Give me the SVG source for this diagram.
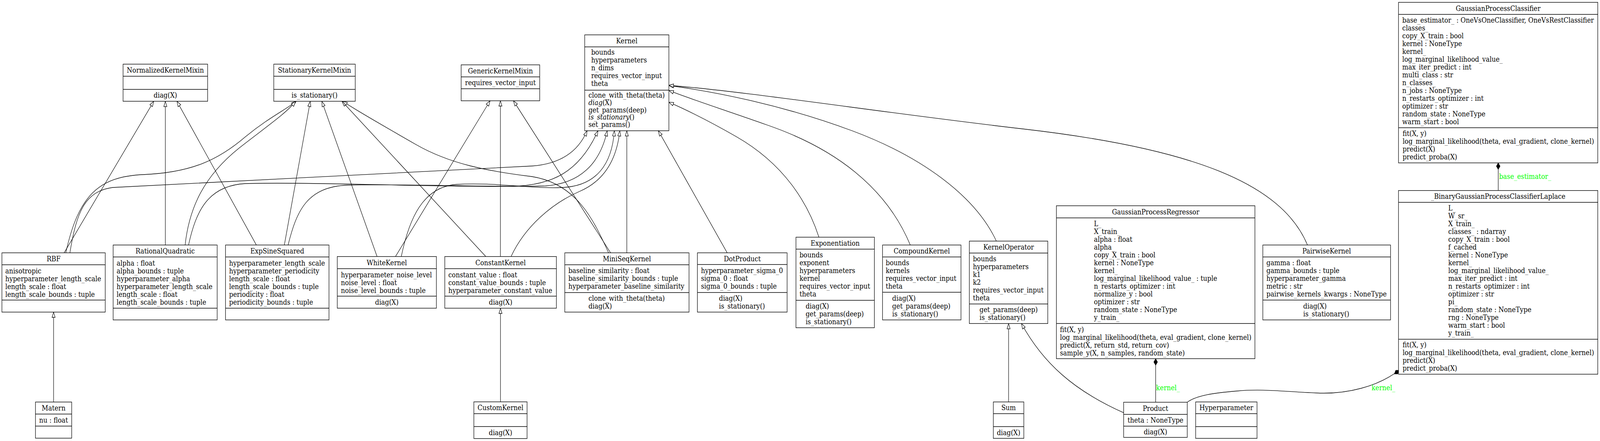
<svg xmlns="http://www.w3.org/2000/svg" width="4693" height="1129" viewBox="0 0 4693 1129" preserveAspectRatio="none">
<style>
svg{width:100vw;height:100vh}
.b{fill:#fff;stroke:#000;stroke-width:1.4}
.s{stroke:#000;stroke-width:1.4}
text{font-family:"DejaVu Serif",serif;font-size:18.67px;fill:#000}
.c{text-anchor:middle}
.e path{fill:none;stroke:#000;stroke-width:1.3}
.i{marker-end:url(#inh)}
.d{marker-start:url(#dia)}
.g{fill:#00ff00}
</style>
<defs>
<marker id="inh" markerUnits="userSpaceOnUse" markerWidth="16" markerHeight="12" refX="14" refY="5" orient="auto" overflow="visible"><path d="M0.5,0.5 L14,5 L0.5,9.5 Z" fill="#fff" stroke="#000" stroke-width="1.3"/></marker>
<marker id="dia" markerUnits="userSpaceOnUse" markerWidth="18" markerHeight="13" refX="0" refY="6" orient="auto" overflow="visible"><path d="M0,6 L8.5,0.5 L17,6 L8.5,11.5 Z" fill="#000" stroke="#000" stroke-width="1"/></marker>
</defs>
<rect width="4693" height="1129" fill="#fff"/>
<g class="e" id="connectors">
<path class="i" d="M188,647.3 L451,259.3"/>
<path class="i" d="M485,627.3 L485,259.3"/>
<path class="i" d="M752,627.3 L519,259.3"/>
<path class="i" d="M193,647.3 C230,500 290,452 420,447 C560,442 640,410 720,350 C790,300 840,280 869,259.3"/>
<path class="i" d="M543,627.3 C555,530 600,450 700,380 C780,325 840,290 867,259.3"/>
<path class="i" d="M834,627.3 L910,259.3"/>
<path class="i" d="M1106,656.7 L944,259.3"/>
<path class="i" d="M1425,656.7 L1003,259.3"/>
<path class="i" d="M1785,647.3 C1740,560 1690,470 1560,452 C1430,438 1320,420 1220,370 C1120,320 1050,285 1005,259.3"/>
<path class="i" d="M1160,656.7 L1437.5,258"/>
<path class="i" d="M1467.8,656.7 L1467.8,258"/>
<path class="i" d="M1791,647.3 L1506,258"/>
<path class="i" d="M205,647.3 C225,540 250,490 330,480 L1560,425 C1640,420 1695,390 1722,334.7"/>
<path class="i" d="M553,627.3 C575,540 610,475 720,470 C900,465 1300,480 1500,477 C1620,475 1700,440 1754,334.7"/>
<path class="i" d="M845,627.3 C870,540 900,478 1020,474 C1200,470 1450,480 1600,476 C1700,470 1760,420 1781,334.7"/>
<path class="i" d="M1177,656.7 C1200,560 1240,478 1340,472 C1450,466 1560,484 1650,480 C1750,476 1795,420 1802,334.7"/>
<path class="i" d="M1499,656.7 C1540,580 1620,520 1700,490 C1780,460 1810,400 1818,334.7"/>
<path class="i" d="M1838.5,647.3 L1838.5,334.7"/>
<path class="i" d="M2133,647.3 L1931,334.7"/>
<path class="i" d="M2402,607.3 C2370,520 2300,420 2160,350 C2080,310 2010,280 1962,261.7"/>
<path class="i" d="M2670,627.3 C2600,480 2450,380 2250,320 C2120,280 2030,255 1962,231.7"/>
<path class="i" d="M2922.5,617.3 C2860,500 2700,400 2500,335 C2300,270 2100,235 1962,219"/>
<path class="i" d="M3835,627.3 C3760,470 3500,380 3000,330 C2600,290 2200,235 1962,218.5"/>
<path class="i" d="M2958.3,1029 L2958.3,828.3"/>
<path class="i" d="M3295.8,1056.7 C3150,1000 3060,930 2996,828.3"/>
<path class="i" d="M157.2,1029.3 L157.2,799"/>
<path class="i" d="M1468,1028.7 L1468,789"/>
<path class="d" d="M4394.5,417 L4394.5,487.7"/>
<path class="d" d="M3389.7,918.3 L3389.7,1029.7"/>
<path class="d" d="M4104,948 C4040,990 3950,1010 3860,1006 C3760,1002 3700,995 3629,1001 C3560,1006 3510,1012 3482.4,1029.7"/>
<text class="g" x="4397" y="458.5">base_estimator_</text>
<text class="g" x="3391" y="999.5">kernel_</text>
<text class="g" x="4023" y="999.5">kernel_</text>
</g>
<g id="NormalizedKernelMixin">
<rect class="b" x="361" y="164.3" width="248" height="95"/>
<path class="s" d="M361,195.3H609M361,228.7H609"/>
<text class="c" x="485" y="186.3">NormalizedKernelMixin</text>
<text class="c" x="485" y="250.5">diag(X)</text>
</g>
<g id="StationaryKernelMixin">
<rect class="b" x="803" y="164.3" width="239" height="95"/>
<path class="s" d="M803,195.3H1042M803,228.7H1042"/>
<text class="c" x="922.5" y="186.3">StationaryKernelMixin</text>
<text class="c" x="922.5" y="250.5">is_stationary()</text>
</g>
<g id="GenericKernelMixin">
<rect class="b" x="1352.6" y="166" width="230.4" height="92"/>
<path class="s" d="M1352.6,196.7H1583M1352.6,227.3H1583"/>
<text class="c" x="1467.8" y="187.8">GenericKernelMixin</text>
<text class="c" x="1467.8" y="218.5">requires_vector_input</text>
</g>
<g id="Kernel">
<rect class="b" x="1715" y="89.3" width="247" height="245.4"/>
<path class="s" d="M1715,120H1962M1715,230.7H1962"/>
<text class="c" x="1838.5" y="111.2">Kernel</text>
<text x="1734" y="140.5">bounds<tspan x="1734" dy="20">hyperparameters</tspan><tspan x="1734" dy="20">n_dims</tspan><tspan x="1734" dy="20">requires_vector_input</tspan><tspan x="1734" dy="20">theta</tspan></text>
<text x="1726" y="250.5">clone_with_theta(theta)</text>
<text x="1726" y="269"><tspan font-style="italic">diag</tspan>(X)</text>
<text x="1726" y="287.8">get_params(deep)</text>
<text x="1726" y="306.5"><tspan font-style="italic">is_stationary</tspan>()</text>
<text x="1726" y="325.2">set_params()</text>
</g>
<g id="RBF">
<rect class="b" x="5.6" y="647.3" width="303.1" height="151.7"/>
<path class="s" d="M5.6,677.7H308.7M5.6,768.3H308.7"/>
<text class="c" x="157.2" y="669">RBF</text>
<text x="15.4" y="699.8">anisotropic<tspan x="15.4" dy="20">hyperparameter_length_scale</tspan><tspan x="15.4" dy="20">length_scale : float</tspan><tspan x="15.4" dy="20">length_scale_bounds : tuple</tspan></text>
</g>
<g id="RationalQuadratic">
<rect class="b" x="331.8" y="627.3" width="305.2" height="191.7"/>
<path class="s" d="M331.8,657.7H637M331.8,789H637"/>
<text class="c" x="484.4" y="649">RationalQuadratic</text>
<text x="342" y="679.8">alpha : float<tspan x="342" dy="20">alpha_bounds : tuple</tspan><tspan x="342" dy="20">hyperparameter_alpha</tspan><tspan x="342" dy="20">hyperparameter_length_scale</tspan><tspan x="342" dy="20">length_scale : float</tspan><tspan x="342" dy="20">length_scale_bounds : tuple</tspan></text>
</g>
<g id="ExpSineSquared">
<rect class="b" x="661.5" y="627.3" width="303.5" height="191.7"/>
<path class="s" d="M661.5,657.7H965M661.5,789H965"/>
<text class="c" x="813.2" y="649">ExpSineSquared</text>
<text x="672" y="679.8">hyperparameter_length_scale<tspan x="672" dy="20">hyperparameter_periodicity</tspan><tspan x="672" dy="20">length_scale : float</tspan><tspan x="672" dy="20">length_scale_bounds : tuple</tspan><tspan x="672" dy="20">periodicity : float</tspan><tspan x="672" dy="20">periodicity_bounds : tuple</tspan></text>
</g>
<g id="WhiteKernel">
<rect class="b" x="989.3" y="656.7" width="290.7" height="132.3"/>
<path class="s" d="M989.3,687.7H1280M989.3,758.3H1280"/>
<text class="c" x="1134.6" y="678.7">WhiteKernel</text>
<text x="1000" y="709.8">hyperparameter_noise_level<tspan x="1000" dy="20">noise_level : float</tspan><tspan x="1000" dy="20">noise_level_bounds : tuple</tspan></text>
<text class="c" x="1134.6" y="780.2">diag(X)</text>
</g>
<g id="ConstantKernel">
<rect class="b" x="1304.6" y="656.7" width="327.4" height="132.3"/>
<path class="s" d="M1304.6,687.7H1632M1304.6,758.3H1632"/>
<text class="c" x="1468.3" y="678.7">ConstantKernel</text>
<text x="1315" y="709.8">constant_value : float<tspan x="1315" dy="20">constant_value_bounds : tuple</tspan><tspan x="1315" dy="20">hyperparameter_constant_value</tspan></text>
<text class="c" x="1468.3" y="780.2">diag(X)</text>
</g>
<g id="MiniSeqKernel">
<rect class="b" x="1656.6" y="647.3" width="364.4" height="151.7"/>
<path class="s" d="M1656.6,677.7H2021M1656.6,749H2021"/>
<text class="c" x="1838.8" y="669">MiniSeqKernel</text>
<text x="1667" y="699.2">baseline_similarity : float<tspan x="1667" dy="20">baseline_similarity_bounds : tuple</tspan><tspan x="1667" dy="20">hyperparameter_baseline_similarity</tspan></text>
<text x="1726" y="770.5">clone_with_theta(theta)<tspan x="1726" dy="20">diag(X)</tspan></text>
</g>
<g id="DotProduct">
<rect class="b" x="2045.6" y="647.3" width="263.1" height="151.7"/>
<path class="s" d="M2045.6,677.3H2308.7M2045.6,748.7H2308.7"/>
<text class="c" x="2177.2" y="669">DotProduct</text>
<text x="2056" y="699.2">hyperparameter_sigma_0<tspan x="2056" dy="20">sigma_0 : float</tspan><tspan x="2056" dy="20">sigma_0_bounds : tuple</tspan></text>
<text x="2108.7" y="770">diag(X)<tspan x="2108.7" dy="20">is_stationary()</tspan></text>
</g>
<g id="Exponentiation">
<rect class="b" x="2334.6" y="607.3" width="230.1" height="231.7"/>
<path class="s" d="M2334.6,637.7H2564.7M2334.6,768.7H2564.7"/>
<text class="c" x="2449.7" y="629">Exponentiation</text>
<text x="2345" y="659.2">bounds<tspan x="2345" dy="20">exponent</tspan><tspan x="2345" dy="20">hyperparameters</tspan><tspan x="2345" dy="20">kernel</tspan><tspan x="2345" dy="20">requires_vector_input</tspan><tspan x="2345" dy="20">theta</tspan></text>
<text x="2363" y="790">diag(X)<tspan x="2363" dy="20">get_params(deep)</tspan><tspan x="2363" dy="20">is_stationary()</tspan></text>
</g>
<g id="CompoundKernel">
<rect class="b" x="2588.6" y="627.3" width="230.1" height="191.7"/>
<path class="s" d="M2588.6,657.7H2818.7M2588.6,748.3H2818.7"/>
<text class="c" x="2703.7" y="649">CompoundKernel</text>
<text x="2598" y="679.2">bounds<tspan x="2598" dy="20">kernels</tspan><tspan x="2598" dy="20">requires_vector_input</tspan><tspan x="2598" dy="20">theta</tspan></text>
<text x="2617" y="769.8">diag(X)<tspan x="2617" dy="20">get_params(deep)</tspan><tspan x="2617" dy="20">is_stationary()</tspan></text>
</g>
<g id="KernelOperator">
<rect class="b" x="2843.2" y="617.3" width="230.1" height="211"/>
<path class="s" d="M2843.2,647.7H3073.3M2843.2,778.2H3073.3"/>
<text class="c" x="2958.3" y="639">KernelOperator</text>
<text x="2853.7" y="669.2">bounds<tspan x="2853.7" dy="20">hyperparameters</tspan><tspan x="2853.7" dy="20">k1</tspan><tspan x="2853.7" dy="20">k2</tspan><tspan x="2853.7" dy="20">requires_vector_input</tspan><tspan x="2853.7" dy="20">theta</tspan></text>
<text x="2873" y="799.5">get_params(deep)<tspan x="2873" dy="20">is_stationary()</tspan></text>
</g>
<g id="GaussianProcessRegressor">
<rect class="b" x="3098.6" y="526.7" width="582.2" height="391.6"/>
<path class="s" d="M3098.6,557.7H3680.8M3098.6,828.3H3680.8"/>
<text class="c" x="3389.7" y="548.7">GaussianProcessRegressor</text>
<text x="3208.7" y="579.2">L_<tspan x="3208.7" dy="20">X_train_</tspan><tspan x="3208.7" dy="20">alpha : float</tspan><tspan x="3208.7" dy="20">alpha_</tspan><tspan x="3208.7" dy="20">copy_X_train : bool</tspan><tspan x="3208.7" dy="20">kernel : NoneType</tspan><tspan x="3208.7" dy="20">kernel_</tspan><tspan x="3208.7" dy="20">log_marginal_likelihood_value_ : tuple</tspan><tspan x="3208.7" dy="20">n_restarts_optimizer : int</tspan><tspan x="3208.7" dy="20">normalize_y : bool</tspan><tspan x="3208.7" dy="20">optimizer : str</tspan><tspan x="3208.7" dy="20">random_state : NoneType</tspan><tspan x="3208.7" dy="20">y_train_</tspan></text>
<text x="3109" y="849.8">fit(X, y)<tspan x="3109" dy="20">log_marginal_likelihood(theta, eval_gradient, clone_kernel)</tspan><tspan x="3109" dy="20">predict(X, return_std, return_cov)</tspan><tspan x="3109" dy="20">sample_y(X, n_samples, random_state)</tspan></text>
</g>
<g id="PairwiseKernel">
<rect class="b" x="3704" y="627.3" width="374.6" height="191.7"/>
<path class="s" d="M3704,657.7H4078.6M3704,768.3H4078.6"/>
<text class="c" x="3891.3" y="649">PairwiseKernel</text>
<text x="3714.5" y="679.2">gamma : float<tspan x="3714.5" dy="20">gamma_bounds : tuple</tspan><tspan x="3714.5" dy="20">hyperparameter_gamma</tspan><tspan x="3714.5" dy="20">metric : str</tspan><tspan x="3714.5" dy="20">pairwise_kernels_kwargs : NoneType</tspan></text>
<text x="3822.6" y="790">diag(X)<tspan x="3822.6" dy="20">is_stationary()</tspan></text>
</g>
<g id="GaussianProcessClassifier">
<rect class="b" x="4102" y="6" width="584.5" height="411"/>
<path class="s" d="M4102,36.7H4686.5M4102,327H4686.5"/>
<text class="c" x="4394.3" y="27.9">GaussianProcessClassifier</text>
<text x="4113" y="58.2">base_estimator_ : OneVsOneClassifier, OneVsRestClassifier<tspan x="4113" dy="20">classes_</tspan><tspan x="4113" dy="20">copy_X_train : bool</tspan><tspan x="4113" dy="20">kernel : NoneType</tspan><tspan x="4113" dy="20">kernel_</tspan><tspan x="4113" dy="20">log_marginal_likelihood_value_</tspan><tspan x="4113" dy="20">max_iter_predict : int</tspan><tspan x="4113" dy="20">multi_class : str</tspan><tspan x="4113" dy="20">n_classes_</tspan><tspan x="4113" dy="20">n_jobs : NoneType</tspan><tspan x="4113" dy="20">n_restarts_optimizer : int</tspan><tspan x="4113" dy="20">optimizer : str</tspan><tspan x="4113" dy="20">random_state : NoneType</tspan><tspan x="4113" dy="20">warm_start : bool</tspan></text>
<text x="4114" y="348.2">fit(X, y)<tspan x="4114" dy="20">log_marginal_likelihood(theta, eval_gradient, clone_kernel)</tspan><tspan x="4114" dy="20">predict(X)</tspan><tspan x="4114" dy="20">predict_proba(X)</tspan></text>
</g>
<g id="BinaryGaussianProcessClassifierLaplace">
<rect class="b" x="4102" y="487.7" width="584.5" height="470.3"/>
<path class="s" d="M4102,518H4686.5M4102,868.5H4686.5"/>
<text class="c" x="4394.3" y="509.4">_BinaryGaussianProcessClassifierLaplace</text>
<text x="4248" y="539.5">L_<tspan x="4248" dy="20">W_sr_</tspan><tspan x="4248" dy="20">X_train_</tspan><tspan x="4248" dy="20">classes_ : ndarray</tspan><tspan x="4248" dy="20">copy_X_train : bool</tspan><tspan x="4248" dy="20">f_cached</tspan><tspan x="4248" dy="20">kernel : NoneType</tspan><tspan x="4248" dy="20">kernel_</tspan><tspan x="4248" dy="20">log_marginal_likelihood_value_</tspan><tspan x="4248" dy="20">max_iter_predict : int</tspan><tspan x="4248" dy="20">n_restarts_optimizer : int</tspan><tspan x="4248" dy="20">optimizer : str</tspan><tspan x="4248" dy="20">pi_</tspan><tspan x="4248" dy="20">random_state : NoneType</tspan><tspan x="4248" dy="20">rng : NoneType</tspan><tspan x="4248" dy="20">warm_start : bool</tspan><tspan x="4248" dy="20">y_train_</tspan></text>
<text x="4114" y="889.5">fit(X, y)<tspan x="4114" dy="20">log_marginal_likelihood(theta, eval_gradient, clone_kernel)</tspan><tspan x="4114" dy="20">predict(X)</tspan><tspan x="4114" dy="20">predict_proba(X)</tspan></text>
</g>
<g id="Matern">
<rect class="b" x="104" y="1029.3" width="106.3" height="92.4"/>
<path class="s" d="M104,1060H210.3M104,1090.7H210.3"/>
<text class="c" x="157.2" y="1051.2">Matern</text>
<text class="c" x="157.2" y="1081.8">nu : float</text>
</g>
<g id="CustomKernel">
<rect class="b" x="1389.9" y="1028.7" width="156.1" height="94"/>
<path class="s" d="M1389.9,1059H1546M1389.9,1092H1546"/>
<text class="c" x="1468" y="1050.3">CustomKernel</text>
<text class="c" x="1468" y="1113.8">diag(X)</text>
</g>
<g id="Sum">
<rect class="b" x="2913.6" y="1029" width="89.4" height="93.3"/>
<path class="s" d="M2913.6,1059H3003M2913.6,1092.3H3003"/>
<text class="c" x="2958.3" y="1050.5">Sum</text>
<text class="c" x="2958.3" y="1113.8">diag(X)</text>
</g>
<g id="Product">
<rect class="b" x="3295.8" y="1029.7" width="186.6" height="90"/>
<path class="s" d="M3295.8,1060.7H3482.4M3295.8,1091H3482.4"/>
<text class="c" x="3389.1" y="1051.7">Product</text>
<text class="c" x="3389.1" y="1082.3">theta : NoneType</text>
<text class="c" x="3389.1" y="1111.8">diag(X)</text>
</g>
<g id="Hyperparameter">
<rect class="b" x="3507" y="1029" width="180" height="93.3"/>
<path class="s" d="M3507,1059H3687M3507,1092.3H3687"/>
<text class="c" x="3597" y="1050.5">Hyperparameter</text>
</g>
</svg>
